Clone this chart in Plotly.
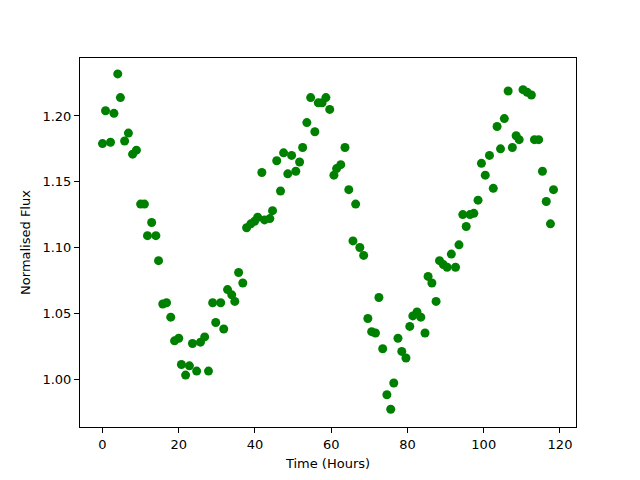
import plotly.graph_objects as go

time_hours = [0, 0.8, 2.1, 3, 4, 4.7, 5.8, 6.8, 7.9, 8.9, 10, 11, 11.8, 12.9, 14, 14.7,
              15.8, 16.8, 17.9, 18.9, 20, 20.7, 21.8, 22.8, 23.6, 24.7, 25.7, 26.8, 27.8,
              28.9, 29.7, 31, 31.8, 32.8, 33.9, 34.7, 35.7, 36.8, 37.8, 38.9, 39.9, 40.7,
              41.8, 42.5, 43.9, 44.6, 45.7, 46.7, 47.5, 48.6, 49.6, 50.7, 51.7, 52.5, 53.6,
              54.6, 55.7, 56.6, 57.6, 58.6, 59.6, 60.7, 61.4, 62.5, 63.6, 64.6, 65.7, 66.4,
              67.5, 68.5, 69.6, 70.6, 71.6, 72.5, 73.5, 74.6, 75.6, 76.4, 77.5, 78.5, 79.6,
              80.6, 81.4, 82.5, 83.5, 84.6, 85.4, 86.4, 87.5, 88.4, 89.4, 90.4, 91.5, 92.6,
              93.5, 94.5, 95.4, 96.4, 97.4, 98.5, 99.4, 100.4, 101.5, 102.5, 103.5, 104.4,
              105.4, 106.4, 107.5, 108.5, 109.3, 110.3, 111.4, 112.5, 113.3, 114.4, 115.4,
              116.4, 117.5, 118.3]
flux = [1.179, 1.204, 1.180, 1.202, 1.232, 1.214, 1.181, 1.187, 1.171, 1.174, 1.133, 1.133,
        1.109, 1.119, 1.109, 1.090, 1.057, 1.058, 1.047, 1.029, 1.031, 1.011, 1.003, 1.010,
        1.027, 1.006, 1.028, 1.032, 1.006, 1.058, 1.043, 1.058, 1.038, 1.068, 1.064, 1.059,
        1.081, 1.073, 1.115, 1.118, 1.120, 1.123, 1.157, 1.121, 1.122, 1.128, 1.166, 1.143,
        1.172, 1.156, 1.170, 1.158, 1.165, 1.176, 1.195, 1.214, 1.188, 1.210, 1.210, 1.214,
        1.205, 1.155, 1.160, 1.163, 1.176, 1.144, 1.105, 1.133, 1.100, 1.094, 1.046, 1.036,
        1.035, 1.062, 1.023, 0.988, 0.977, 0.997, 1.031, 1.021, 1.016, 1.040, 1.048, 1.051,
        1.047, 1.035, 1.078, 1.073, 1.059, 1.090, 1.087, 1.085, 1.095, 1.085, 1.102, 1.125,
        1.116, 1.125, 1.126, 1.136, 1.164, 1.155, 1.170, 1.145, 1.192, 1.175, 1.198, 1.219,
        1.176, 1.185, 1.182, 1.220, 1.218, 1.216, 1.182, 1.182, 1.158, 1.135, 1.118, 1.144]

x_ticks = [0, 20, 40, 60, 80, 100, 120]
y_ticks = [1.00, 1.05, 1.10, 1.15, 1.20]

fig = go.Figure(go.Scatter(
    x=time_hours, y=flux, mode="markers",
    marker=dict(color="#008000", size=9, line=dict(width=0)),
))

axis_common = dict(
    showgrid=False, zeroline=False, showline=True, linecolor="black", linewidth=1,
    mirror=True, ticks="outside", ticklen=5, tickwidth=1, tickcolor="black",
    tickfont=dict(family="DejaVu Sans", size=13, color="black"),
)

fig.update_layout(
    width=640, height=480,
    margin=dict(l=72, r=72, t=50, b=61),
    paper_bgcolor="white", plot_bgcolor="white",
    showlegend=False,
    font=dict(family="DejaVu Sans", size=13, color="black"),
    xaxis=dict(range=[-5.9, 124.2], tickvals=x_ticks,
               title=dict(text="Time (Hours)", standoff=8,
                          font=dict(family="DejaVu Sans", size=13)),
               **axis_common),
    yaxis=dict(range=[0.9635, 1.2441], tickvals=y_ticks, tickformat=".2f",
               title=dict(text="Normalised Flux", standoff=8,
                          font=dict(family="DejaVu Sans", size=13)),
               **axis_common),
)

fig.write_html("out.html")
